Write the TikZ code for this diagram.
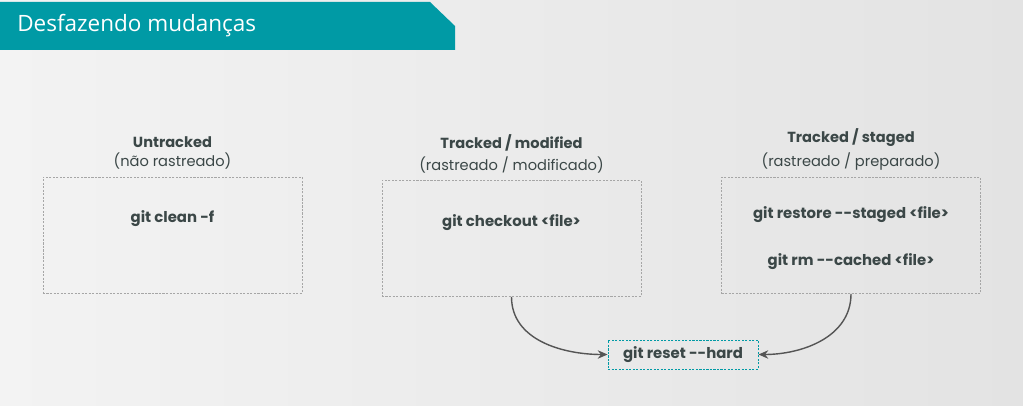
\documentclass[tikz,border=0pt]{standalone}
\usepackage{fontspec}
\setmainfont{Poppins}
\newfontfamily\bannerfont{Open Sans}
\usetikzlibrary{positioning,arrows.meta}
\definecolor{tealbar}{HTML}{009AA5}
\definecolor{txtgray}{HTML}{3B4747}
\definecolor{dashgray}{HTML}{A6A6A6}
\definecolor{arrowgray}{HTML}{555555}
\definecolor{bgleft}{HTML}{F3F3F3}
\definecolor{bgright}{HTML}{E3E3E3}
\newcommand{\dd}{-{}-}
\tikzset{
  statebox/.style={draw=dashgray, dash pattern=on 1.5pt off 1pt, line width=0.5pt,
    minimum width=6.475cm, minimum height=2.9cm},
  headline/.style={text=txtgray, font=\fontsize{10.4}{12}\selectfont\bfseries, inner sep=0pt},
  subline/.style={text=txtgray, font=\fontsize{10.4}{12}\selectfont, inner sep=0pt},
  cmd/.style={text=txtgray, font=\fontsize{10.6}{12}\selectfont\bfseries, inner sep=0pt},
  flow/.style={-{Stealth[length=7pt,width=6pt]}, draw=arrowgray, line width=1pt},
}

\begin{document}
\begin{tikzpicture}[x=0.025cm, y=-0.025cm]
  % fundo
  \shade[left color=bgleft, right color=bgright] (0,0) rectangle (1023,406);
  \useasboundingbox (0,0) rectangle (1023,406);

  % faixa do titulo
  \fill[tealbar] (0,2) -- (430,2) -- (455,26) -- (455,50) -- (0,50) -- cycle;
  \node[anchor=west, inner sep=0pt, text=white, font=\bannerfont\fontsize{16}{19}\selectfont] (banner) at (17,26) {Desfazendo mudanças};

  % caixas
  \node[statebox] (untr) at (172.5,235) {};
  \node[statebox] (modf) at (511.5,238.5) {};
  \node[statebox] (stgd) at (851,235.5) {};

  \node[subline, above=5pt of untr] (untrsub) {(não rastreado)};
  \node[headline, above=3.5pt of untrsub] (untrhd) {Untracked};
  \node[subline, above=5pt of modf] (modfsub) {(rastreado / modificado)};
  \node[headline, above=3.5pt of modfsub] (modfhd) {Tracked / modified};
  \node[subline, above=5pt of stgd] (stgdsub) {(rastreado / preparado)};
  \node[headline, above=3.5pt of stgdsub] (stgdhd) {Tracked / staged};

  \node[cmd, below=24pt of untr.north] (clean) {git clean -f};
  \node[cmd, below=24pt of modf.north] (chk) {git checkout <file>};
  \node[cmd, below=21pt of stgd.north] (rest) {git restore \dd staged <file>};
  \node[cmd, below=21pt of rest] (rmc) {git rm \dd cached <file>};

  % reset
  \node[cmd, draw=tealbar, dash pattern=on 1.5pt off 1pt, line width=0.6pt,
        minimum width=3.75cm, minimum height=0.725cm] (reset) at (683,354.5) {git reset \dd hard};

  \draw[flow] (modf.south) to[out=-90, in=180] (reset.west);
  \draw[flow] (stgd.south) to[out=-90, in=0] (reset.east);
\end{tikzpicture}
\end{document}
